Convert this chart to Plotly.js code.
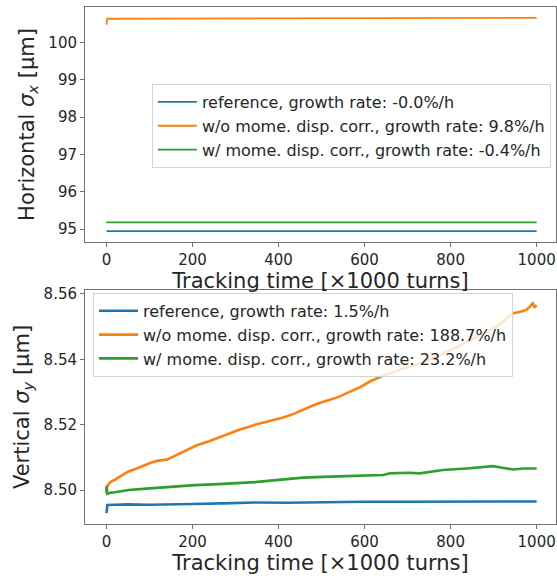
<!DOCTYPE html>
<html>
<head>
<meta charset="utf-8">
<script src="https://cdn.plot.ly/plotly-3.0.1.min.js"></script>
<style>html,body{margin:0;padding:0;background:#fff;}#chart{width:557px;height:579px;}</style>
</head>
<body>
<div id="chart"></div>
<script>
// ---------- Top panel: horizontal beam size ----------
const tRefX   = [0, 1, 100, 300, 500, 700, 900, 1000];
const refX    = [94.947, 94.947, 94.947, 94.948, 94.947, 94.947, 94.948, 94.947];
const tWoX    = [0, 0.5, 2, 100, 300, 500, 700, 900, 1000];
const woX     = [100.47, 100.62, 100.63, 100.632, 100.637, 100.641, 100.646, 100.650, 100.652];
const tWX     = [0, 1, 100, 300, 500, 700, 900, 1000];
const wX      = [95.165, 95.180, 95.180, 95.181, 95.180, 95.180, 95.181, 95.180];

// ---------- Bottom panel: vertical beam size ----------
const tRefY = [0, 0.5, 2, 20, 50, 100, 150, 200, 270, 345, 420, 500, 600, 700, 780, 850, 920, 1000];
const refY  = [8.4929, 8.4950, 8.4954, 8.4955, 8.4956, 8.4955, 8.4957, 8.4957, 8.4959, 8.4962, 8.4961, 8.4963, 8.4964, 8.4964, 8.4965, 8.4966, 8.4965, 8.4965];

const tWoY = [0, 0.5, 1, 5, 10, 20, 35, 50, 70, 100, 120, 140, 160, 180, 210, 240, 260, 283, 310, 334, 345, 370, 390, 411, 435, 457, 488, 510, 540, 566, 590, 612, 643, 670, 697, 730, 759, 800, 837, 870, 900, 914, 930, 945, 960, 976, 985, 991, 995, 1000];
const woY  = [8.4998, 8.5015, 8.5008, 8.5018, 8.5025, 8.5032, 8.5045, 8.5056, 8.5066, 8.5082, 8.5090, 8.5093, 8.5105, 8.5117, 8.5137, 8.5150, 8.5160, 8.5173, 8.5185, 8.5194, 8.5200, 8.5208, 8.5215, 8.5222, 8.5233, 8.5245, 8.5263, 8.5272, 8.5285, 8.5301, 8.5315, 8.5332, 8.5350, 8.5362, 8.5375, 8.5388, 8.5403, 8.5428, 8.5454, 8.5475, 8.5495, 8.5505, 8.5525, 8.5541, 8.5545, 8.5551, 8.5562, 8.5571, 8.5560, 8.5565];

const tWY = [0, 0.5, 2, 10, 20, 51, 100, 150, 206, 260, 345, 400, 457, 520, 566, 600, 643, 659, 702, 728, 760, 782, 837, 870, 899, 920, 945, 970, 1000];
const wY  = [8.4990, 8.5010, 8.4988, 8.4992, 8.4993, 8.5000, 8.5005, 8.5010, 8.5015, 8.5018, 8.5024, 8.5031, 8.5038, 8.5041, 8.5043, 8.5045, 8.5046, 8.5051, 8.5053, 8.5051, 8.5056, 8.5061, 8.5066, 8.5069, 8.5073, 8.5068, 8.5063, 8.5066, 8.5066];

const namesX = ["reference, growth rate: -0.0%/h", "w/o mome. disp. corr., growth rate: 9.8%/h", "w/ mome. disp. corr., growth rate: -0.4%/h"];
const namesY = ["reference, growth rate: 1.5%/h", "w/o mome. disp. corr., growth rate: 188.7%/h", "w/ mome. disp. corr., growth rate: 23.2%/h"];
const colors = ["#1f77b4", "#ff7f0e", "#2ca02c"];
const xTicks = [0, 200, 400, 600, 800, 1000];

const FONT = "DejaVu Sans, sans-serif";
const TXT = "#262626";

const topX = [tRefX, tWoX, tWX], topY = [refX, woX, wX];
const botX = [tRefY, tWoY, tWY], botY = [refY, woY, wY];

const traces = [];
for (let i = 0; i < 3; i++) {
  traces.push({x: topX[i], y: topY[i], type: "scatter", mode: "lines", name: namesX[i],
    line: {color: colors[i], width: 1.8}, xaxis: "x", yaxis: "y", legend: "legend"});
}
for (let i = 0; i < 3; i++) {
  traces.push({x: botX[i], y: botY[i], type: "scatter", mode: "lines", name: namesY[i],
    line: {color: colors[i], width: 2.6}, xaxis: "x2", yaxis: "y2", legend: "legend2"});
}

const axBase = {
  showline: true, mirror: true, linecolor: "#707070", linewidth: 1,
  ticks: "outside", ticklen: 4, tickcolor: "#707070", tickwidth: 1,
  showgrid: false, zeroline: false,
  tickfont: {family: FONT, size: 15, color: TXT}
};

const xCommon = Object.assign({}, axBase, {
  range: [-50, 1045], tickmode: "array", tickvals: xTicks, ticktext: xTicks.map(String)
});

const TITLE_FONT = {family: FONT, size: 21, color: TXT};

const layout = {
  width: 557, height: 579,
  margin: {l: 85, r: 1, t: 7, b: 55},
  paper_bgcolor: "#fff", plot_bgcolor: "#fff",
  showlegend: true,
  font: {family: FONT, color: TXT},
  xaxis: Object.assign({}, xCommon, {anchor: "y",
    title: {text: "Tracking time [×1000 turns]", font: TITLE_FONT, standoff: 2}}),
  yaxis: Object.assign({}, axBase, {domain: [0.5455, 1], range: [94.655, 100.944], dtick: 1, tick0: 95,
    title: {text: "Horizontal <i>σ</i><sub><i>x</i></sub> [μm]", font: TITLE_FONT, standoff: 8}}),
  xaxis2: Object.assign({}, xCommon, {anchor: "y2",
    title: {text: "Tracking time [×1000 turns]", font: TITLE_FONT, standoff: 2}}),
  yaxis2: Object.assign({}, axBase, {domain: [0, 0.4526], range: [8.4896, 8.5612], dtick: 0.02, tick0: 8.5, tickformat: ".2f",
    title: {text: "Vertical <i>σ</i><sub><i>y</i></sub> [μm]", font: TITLE_FONT, standoff: 8}}),
  legend: {x: 0.142, y: 0.851, xanchor: "left", yanchor: "top", itemwidth: 39,
    bgcolor: "rgba(255,255,255,0.8)", bordercolor: "#d4d4d4", borderwidth: 1,
    font: {family: FONT, size: 16, color: TXT}},
  legend2: {x: 0.017, y: 0.447, xanchor: "left", yanchor: "top", itemwidth: 39,
    bgcolor: "rgba(255,255,255,0.8)", bordercolor: "#d4d4d4", borderwidth: 1,
    font: {family: FONT, size: 16, color: TXT}}
};

Plotly.newPlot("chart", traces, layout, {displayModeBar: false, staticPlot: true});
</script>
</body>
</html>
